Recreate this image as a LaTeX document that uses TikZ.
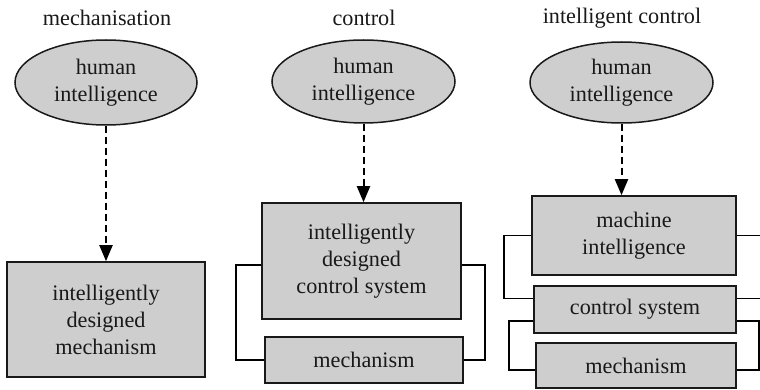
\documentclass[tikz,border=0pt]{standalone}
\usepackage{fontspec}
\setmainfont{Liberation Serif}
\usetikzlibrary{shapes.geometric,arrows.meta,calc}
\definecolor{boxfill}{RGB}{206,206,206}
\definecolor{ink}{RGB}{25,25,25}
\tikzset{
  lbl/.style={font=\fontsize{22.2}{27}\selectfont, text=ink, align=center, inner sep=0pt},
  humanell/.style={ellipse, draw=ink, line width=1.5pt, fill=boxfill, inner sep=0pt, lbl},
  gbox/.style={rectangle, draw=ink, line width=1.6pt, fill=boxfill, inner sep=0pt, lbl},
  design/.style={draw=black, line width=2pt, dash pattern=on 7pt off 4pt, -{Triangle[length=16pt,width=13pt]}},
  loopline/.style={draw=black, line width=1.8pt}
}
\begin{document}
\begin{tikzpicture}[x=1pt,y=-1pt]
\useasboundingbox (0,0) rectangle (760,390);
\clip (0,0) rectangle (760,390);
\fill[white] (0,0) rectangle (760,390);
% titles
\node[lbl] (t1) at (107,18) {mechanisation};
\node[lbl] (t2) at (364,18) {control};
\node[lbl] (t3) at (622,18) {intelligent control};
% ellipses
\node[humanell, minimum width=182pt, minimum height=85pt] (e1) at (106,82.5) {human\\intelligence};
\node[humanell, minimum width=183pt, minimum height=83pt] (e2) at (363.5,81.5) {human\\intelligence};
\node[humanell, minimum width=183pt, minimum height=81pt] (e3) at (621.5,82.5) {human\\intelligence};
% panel 1
\node[gbox, minimum width=198pt, minimum height=115pt] (b1) at (106,319.5) {intelligently\\designed\\mechanism};
% panel 2
\node[gbox, minimum width=199pt, minimum height=116pt] (b2) at (361.5,261) {intelligently\\designed\\control system};
\node[gbox, minimum width=198pt, minimum height=46pt] (m2) at (364,360) {mechanism};
% panel 3
\node[gbox, minimum width=204pt, minimum height=79pt] (b3) at (634,235.5) {machine\\intelligence};
\node[gbox, minimum width=202pt, minimum height=47pt] (c3) at (635,309.5) {control system};
\node[gbox, minimum width=200pt, minimum height=45pt] (m3) at (636,365.5) {mechanism};
% dashed design arrows
\draw[design] (e1.south) -- (b1.north);
\draw[design] (e2.south) -- (e2.south |- b2.north);
\draw[design] (e3.south) -- (e3.south |- b3.north);
% feedback loops panel 2
\draw[loopline] ([yshift=-4pt]b2.west) -- ++(-25,0) |- (m2.west);
\draw[loopline] ([yshift=-4pt]b2.east) -- ++(23,0) |- (m2.east);
% feedback loops panel 3
\draw[loopline] (b3.west) -- ++(-27,0) |- ([yshift=11pt]c3.west);
\draw[loopline] ([yshift=-11.5pt]c3.west) -- ++(-24,0) |- ([yshift=-4.5pt]m3.west);
\draw[loopline] (b3.east) -- ++(40,0) |- ([yshift=11pt]c3.east);
\draw[loopline] ([yshift=-11.5pt]c3.east) -- ++(22,0) |- ([yshift=-4.5pt]m3.east);
\end{tikzpicture}
\end{document}
